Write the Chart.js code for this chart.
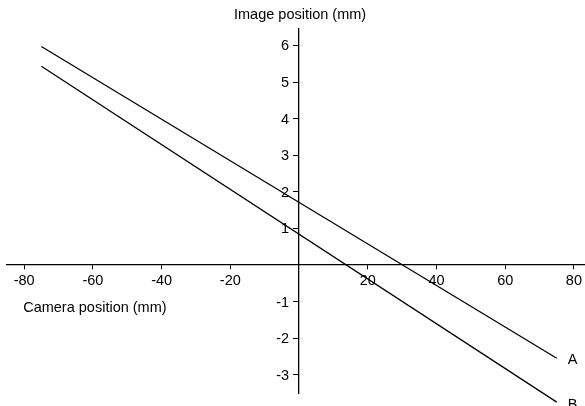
<!DOCTYPE html>
<html>
<head>
<meta charset="utf-8">
<script src="https://cdn.jsdelivr.net/npm/chart.js@4.4.1/dist/chart.umd.min.js"></script>
<style>
  html, body { margin: 0; padding: 0; background: #fff; }
  #wrap { width: 585px; height: 406px; }
</style>
</head>
<body>
<div id="wrap"><canvas id="c" width="585" height="406"></canvas></div>
<script>
// ---- data ----
const cameraPosition = [-75, 75];            // mm (x)
const imagePositionA = [5.97, -2.55];        // mm (y), line A
const imagePositionB = [5.43, -3.75];        // mm (y), line B
const seriesNames = ['A', 'B'];
const xTickValues = [-80, -60, -40, -20, 20, 40, 60, 80];
const yTickValues = [-3, -2, -1, 1, 2, 3, 4, 5, 6];
const xTitle = 'Camera position (mm)';
const yTitle = 'Image position (mm)';

const INK = '#000';
const FONT = { family: '"Liberation Sans", Arial, Helvetica, sans-serif', size: 14.5 };

function pts(ys) { return cameraPosition.map((x, i) => ({ x: x, y: ys[i] })); }

const annotate = {
  id: 'annotate',
  afterDatasetsDraw(chart) {
    const ctx = chart.ctx;
    const xs = chart.scales.x, ys = chart.scales.y;
    ctx.save();
    ctx.fillStyle = INK;
    ctx.font = FONT.size + 'px ' + FONT.family;
    // series end labels
    chart.data.datasets.forEach((ds, i) => {
      const last = ds.data[ds.data.length - 1];
      const px = xs.getPixelForValue(last.x);
      const py = ys.getPixelForValue(last.y);
      ctx.textAlign = 'left';
      ctx.textBaseline = 'middle';
      ctx.fillText(seriesNames[i], px + 11, py + (i === 0 ? 2 : 3));
    });
    const x0 = xs.getPixelForValue(0);
    const y0 = ys.getPixelForValue(0);
    // y tick labels, left of the axis
    ctx.textAlign = 'right';
    ctx.textBaseline = 'middle';
    yTickValues.forEach(v => {
      ctx.fillText(String(v), x0 - 10, ys.getPixelForValue(v) + 1);
    });
    // axis titles
    ctx.textAlign = 'center';
    ctx.textBaseline = 'alphabetic';
    ctx.fillText(yTitle, x0 + 1, chart.chartArea.top - 10);
    ctx.textAlign = 'left';
    ctx.fillText(xTitle, xs.getPixelForValue(xTickValues[0]) - 1, y0 + 47);
    ctx.restore();
  }
};

new Chart(document.getElementById('c'), {
  type: 'scatter',
  data: {
    datasets: [
      { label: seriesNames[0], data: pts(imagePositionA) },
      { label: seriesNames[1], data: pts(imagePositionB) }
    ].map(d => Object.assign(d, {
      showLine: true, borderColor: INK, borderWidth: 1.3, pointRadius: 0,
      fill: false, clip: false, tension: 0
    }))
  },
  options: {
    responsive: false,
    animation: false,
    layout: { padding: { left: 7, right: 0, top: 29, bottom: 13 } },
    plugins: { legend: { display: false }, tooltip: { enabled: false } },
    scales: {
      x: {
        type: 'linear', min: -85, max: 83.2,
        position: { y: 0 },
        afterBuildTicks: s => { s.ticks = xTickValues.map(v => ({ value: v })); },
        grid: { drawOnChartArea: false, drawTicks: true, tickLength: 4, color: INK },
        border: { color: INK, width: 1.3 },
        ticks: { color: INK, font: FONT, maxRotation: 0, autoSkip: false, padding: 3 }
      },
      y: {
        type: 'linear', min: -3.5, max: 6.45,
        position: { x: 0 },
        afterBuildTicks: s => { s.ticks = yTickValues.map(v => ({ value: v })); },
        grid: { drawOnChartArea: false, drawTicks: true, tickLength: 5, color: INK },
        border: { color: INK, width: 1.3 },
        ticks: { display: false }
      }
    }
  },
  plugins: [annotate]
});
</script>
</body>
</html>
